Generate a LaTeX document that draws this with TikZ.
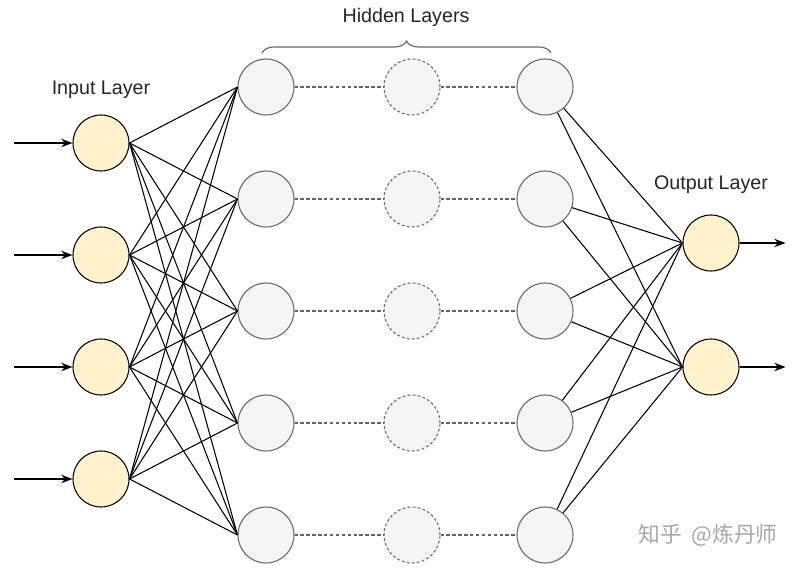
\documentclass[tikz,border=0pt]{standalone}
\usepackage{fontspec}
\setmainfont{Liberation Sans}
\newfontfamily\cjk{Noto Sans CJK SC}
\usetikzlibrary{arrows.meta,decorations.pathreplacing}

\definecolor{inputfill}{HTML}{FFF2CC}
\definecolor{hiddenfill}{HTML}{F5F5F5}
\definecolor{hiddenline}{HTML}{666666}

\tikzset{
  neuron/.style={circle,minimum size=1.4cm,inner sep=0pt,line width=0.75pt},
  inneuron/.style={neuron,draw=black,fill=inputfill},
  hidneuron/.style={neuron,draw=hiddenline,fill=hiddenfill},
  skipneuron/.style={neuron,draw=hiddenline,fill=hiddenfill,dash pattern=on 2pt off 1.6pt},
  weight/.style={line width=0.75pt,black},
  skipline/.style={line width=0.75pt,hiddenline,dash pattern=on 2.4pt off 1.8pt},
  signal/.style={line width=0.75pt,-{Stealth[length=8pt,width=6pt]}},
  label/.style={font=\fontsize{14}{16}\selectfont,text=black!85}
}

\begin{document}
\begin{tikzpicture}
  \useasboundingbox (0,0) rectangle (19.95,14.225);

  % Input layer
  \node[inneuron] (in1) at (2.525,10.65) {};
  \node[inneuron] (in2) at (2.525,7.85) {};
  \node[inneuron] (in3) at (2.525,5.05) {};
  \node[inneuron] (in4) at (2.525,2.25) {};

  % Hidden layers
  \foreach \i/\y in {1/12.05,2/9.25,3/6.45,4/3.65,5/0.85} {
    \node[hidneuron] (ha\i) at (6.65,\y) {};
    \node[skipneuron] (hb\i) at (10.3,\y) {};
    \node[hidneuron] (hc\i) at (13.625,\y) {};
    \draw[skipline] (ha\i) -- (hb\i);
    \draw[skipline] (hb\i) -- (hc\i);
  }

  % Output layer
  \node[inneuron] (out1) at (17.775,8.15) {};
  \node[inneuron] (out2) at (17.775,5.05) {};

  % Weights
  \foreach \i in {1,...,4}
    \foreach \j in {1,...,5}
      \draw[weight] (in\i.east) -- (ha\j.west);
  \foreach \j in {1,...,5}
    \foreach \k in {1,2}
      \draw[weight] (hc\j) -- (out\k.west);

  % Signals in and out
  \foreach \i in {1,...,4} {
    \coordinate (src\i) at ([xshift=-1.45cm]in\i.west);
    \draw[signal] (src\i) -- (in\i.west);
  }
  \foreach \k in {1,2} {
    \coordinate (dst\k) at ([xshift=1.15cm]out\k.east);
    \draw[signal] (out\k.east) -- (dst\k);
  }

  % Labels
  \node[label] (inlabel) at (2.525,11.97) {Input Layer};
  \node[label] (outlabel) at (17.775,9.6) {Output Layer};
  \coordinate (braceL) at (6.55,12.9);
  \coordinate (braceR) at (13.775,12.9);
  \draw[hiddenline,line width=0.8pt,decorate,decoration={brace,amplitude=0.3cm}]
    (braceL) -- (braceR);
  \node[label] (hidlabel) at (10.15,13.8) {Hidden Layers};

  % Watermark
  \node[font=\cjk\fontsize{15.5}{17}\selectfont,text=black!35] (mark) at (17.7,0.85) {知乎\ \ @炼丹师};
\end{tikzpicture}
\end{document}
